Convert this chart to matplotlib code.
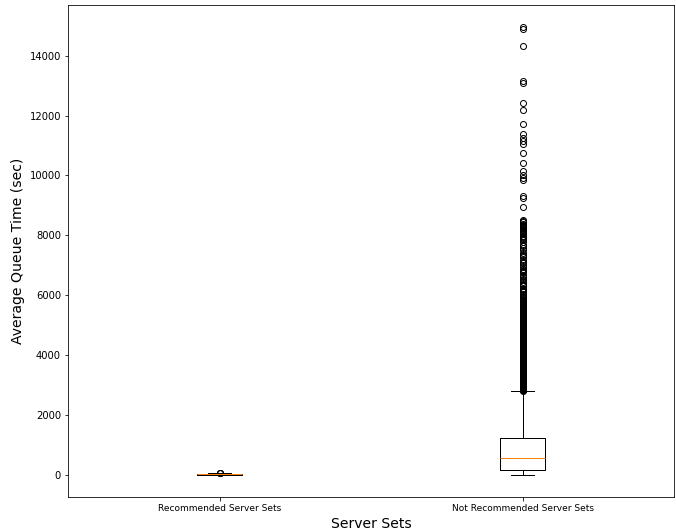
import matplotlib
matplotlib.use('Agg')
import matplotlib.pyplot as plt

# Server set groups
labels = ['Recommended Server Sets', 'Not Recommended Server Sets']

# Box statistics for queue time (sec)
whislo = [0, 0]
q1 = [2, 150]
med = [8, 540]
q3 = [18, 1210]
whishi = [40, 2790]

# Outliers above the upper whisker
rec_fliers = [45, 52, 60]
notrec_fliers = [
    2800, 2815, 2830, 2845, 2860, 2875, 2890, 2905, 2920, 2940, 2955, 2970,
    2985, 3000, 3020, 3035, 3050, 3070, 3085, 3100, 3120, 3135, 3150, 3170,
    3185, 3200, 3220, 3240, 3255, 3270, 3290, 3310, 3325, 3340, 3360, 3380,
    3395, 3410, 3430, 3450, 3465, 3480, 3500, 3520, 3535, 3550, 3570, 3590,
    3605, 3620, 3640, 3660, 3675, 3690, 3710, 3730, 3745, 3760, 3780, 3800,
    3815, 3830, 3850, 3870, 3885, 3900, 3920, 3940, 3955, 3970, 3990, 4010,
    4025, 4040, 4060, 4080, 4095, 4110, 4130, 4150, 4165, 4180, 4200, 4220,
    4235, 4250, 4270, 4290, 4305, 4320, 4340, 4360, 4375, 4390, 4410, 4430,
    4445, 4460, 4480, 4500, 4515, 4530, 4550, 4570, 4585, 4600, 4620, 4640,
    4655, 4670, 4690, 4710, 4725, 4740, 4760, 4780, 4795, 4810, 4830, 4850,
    4870, 4890, 4910, 4930, 4950, 4970, 4990, 5010, 5040, 5060, 5080, 5100,
    5120, 5150, 5170, 5190, 5210, 5230, 5260, 5280, 5300, 5320, 5350, 5370,
    5390, 5410, 5440, 5460, 5480, 5500, 5530, 5550, 5570, 5590, 5620, 5640,
    5660, 5690, 5710, 5730, 5760, 5780, 5800, 5830, 5850, 5870, 5900, 5930,
    5960, 6000, 6040, 6090, 6150, 6190, 6220, 6290, 6330, 6380, 6450, 6490,
    6530, 6600, 6640, 6680, 6760, 6780, 6800, 6840, 6870, 6930, 7010, 7060,
    7100, 7180, 7260, 7300, 7350, 7420, 7510, 7590, 7640, 7680, 7760, 7830,
    7870, 7900, 7950, 7980, 8030, 8060, 8080, 8120, 8150, 8180, 8210, 8250,
    8280, 8310, 8340, 8390, 8430, 8470, 8510, 8930, 9250, 9300, 9850, 9900,
    10000, 10150, 10420, 10750, 11050, 11150, 11250, 11400, 11720, 12200,
    12430, 13100, 13150, 14330, 14900, 14950,
]
fliers = [rec_fliers, notrec_fliers]

stats = []
for i in range(len(labels)):
    stats.append({
        'label': labels[i],
        'whislo': whislo[i],
        'q1': q1[i],
        'med': med[i],
        'q3': q3[i],
        'whishi': whishi[i],
        'fliers': fliers[i],
    })

fig = plt.figure(figsize=(676 / 72, 531 / 72), dpi=72)
ax = fig.add_axes([68 / 676, 34 / 531, 606 / 676, 492 / 531])
ax.bxp(stats, widths=0.15)

ax.set_xlabel('Server Sets', fontsize=14)
ax.set_ylabel('Average Queue Time (sec)', fontsize=14)
ax.tick_params(axis='x', labelsize=9)
ax.tick_params(axis='y', labelsize=10)

fig.savefig('out.png', dpi=72)
